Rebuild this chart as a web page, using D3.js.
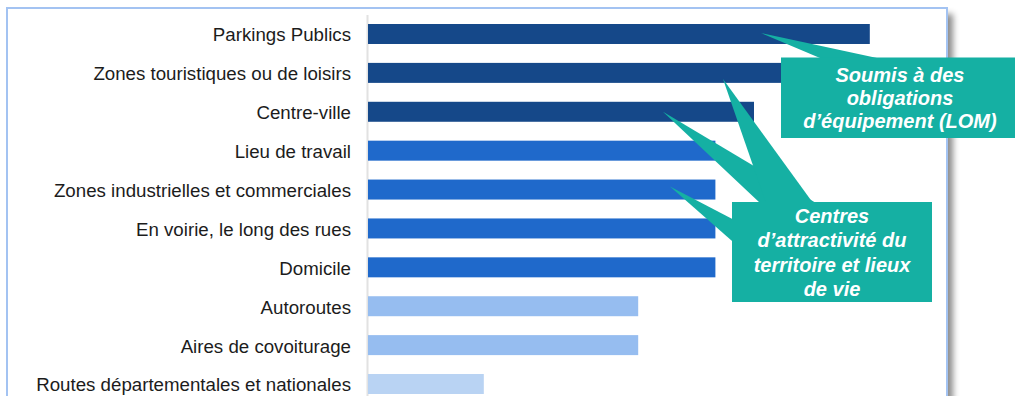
<!DOCTYPE html>
<html><head><meta charset="utf-8">
<script src="https://cdn.jsdelivr.net/npm/d3@7"></script>
<style>
html,body{margin:0;padding:0;background:#fff;}
svg{display:block;}
</style></head>
<body>
<svg id="c" width="1015" height="396"></svg>
<script>
const categories = ["Parkings Publics","Zones touristiques ou de loisirs","Centre-ville","Lieu de travail","Zones industrielles et commerciales","En voirie, le long des rues","Domicile","Autoroutes","Aires de covoiturage","Routes départementales et nationales"];
const values = [65, 60, 50, 45, 45, 45, 45, 35, 35, 15];
const tiers = [0, 0, 0, 1, 1, 1, 1, 2, 2, 3];
const callout1Lines = ["Soumis à des", "obligations", "d’équipement (LOM)"];
const callout2Lines = ["Centres", "d’attractivité du", "territoire et lieux", "de vie"];

const palette = ["#154889", "#1f69cb", "#96bdf0", "#b9d3f3"];
const teal = "#15b0a3";

const svg = d3.select("#c");
const defs = svg.append("defs");
const f = defs.append("filter").attr("id","sh").attr("x","-5%").attr("y","-5%").attr("width","115%").attr("height","115%");
f.append("feDropShadow").attr("dx",6).attr("dy",6).attr("stdDeviation",3).attr("flood-color","#000").attr("flood-opacity",0.45);

svg.append("rect").attr("x",7).attr("y",8).attr("width",940).attr("height",430)
  .attr("fill","#fff").attr("filter","url(#sh)");
svg.append("rect").attr("x",7).attr("y",8).attr("width",940).attr("height",430)
  .attr("fill","#fff").attr("stroke","#a3c3f2").attr("stroke-width",2);

const y = d3.scaleBand().domain(categories).range([14.55, 14.55 + 38.89*10]).paddingInner(0.486).paddingOuter(0.243);
const x = d3.scaleLinear().domain([0, 100]).range([368, 1140]);

const ax = svg.append("g").attr("transform","translate(367,0)")
  .call(d3.axisLeft(y).tickSize(0).tickPadding(16));
ax.select(".domain").attr("stroke","#e2e2e2").attr("stroke-width",2);
ax.selectAll("text").attr("font-family","Liberation Sans, Arial, sans-serif").attr("font-size","18.7px")
  .attr("fill","#1c1c1c").attr("dy","0.4em");

svg.append("g").selectAll("rect").data(categories).join("rect")
  .attr("x", x(0)).attr("y", d => y(d)).attr("height", y.bandwidth())
  .attr("width", (d,i) => x(values[i]) - x(0))
  .attr("fill", (d,i) => palette[tiers[i]]);

const cy = c => y(c) + y.bandwidth()/2;

// Callout 2 (Centres d'attractivité)
const g2 = svg.append("g").attr("fill", teal);
g2.append("polygon").attr("points", [[663, cy(categories[2])], [760,203], [816,203]].join(" "));
g2.append("polygon").attr("points", [[723, cy(categories[1]) + 6], [766,203], [813,203]].join(" "));
g2.append("polygon").attr("points", [[670, cy(categories[4]) - 3], [740,223], [740,248]].join(" "));
g2.append("rect").attr("x",732).attr("y",202).attr("width",200).attr("height",100);
const t2 = svg.append("text").attr("x",832).attr("y",223).attr("text-anchor","middle")
  .attr("font-family","Liberation Sans, Arial, sans-serif").attr("font-size","20px")
  .attr("font-weight","bold").attr("font-style","italic").attr("fill","#fff");
callout2Lines.forEach((l,i) => t2.append("tspan").attr("x",832).attr("y",223 + i*24.3).text(l));

// Callout 1 (LOM)
const g1 = svg.append("g").attr("fill", teal);
g1.append("polygon").attr("points", [[761, cy(categories[0]) - 1], [820,58], [877,58]].join(" "));
g1.append("rect").attr("x",781).attr("y",57.5).attr("width",240).attr("height",80.5);
const t1 = svg.append("text").attr("text-anchor","middle")
  .attr("font-family","Liberation Sans, Arial, sans-serif").attr("font-size","20px")
  .attr("font-weight","bold").attr("font-style","italic").attr("fill","#fff");
callout1Lines.forEach((l,i) => t1.append("tspan").attr("x",900).attr("y",82 + i*23).text(l));
</script>
</body></html>
